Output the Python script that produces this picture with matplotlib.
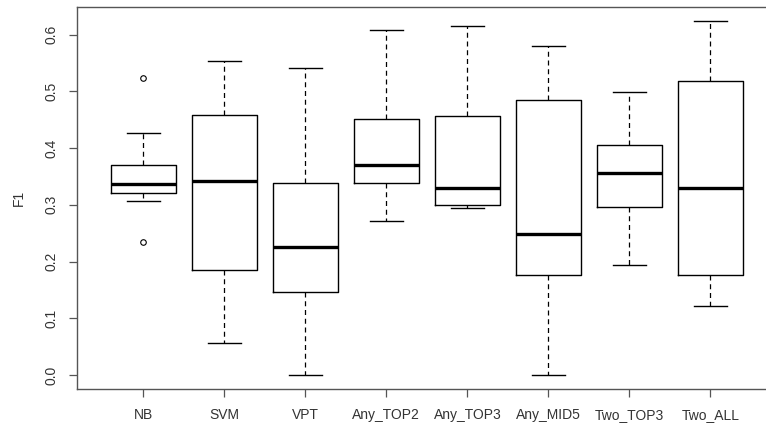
import matplotlib
matplotlib.use("Agg")
import matplotlib.pyplot as plt

# values (F1 per method)
labels = ["NB", "SVM", "VPT", "Any_TOP2", "Any_TOP3", "Any_MID5", "Two_TOP3", "Two_ALL"]
whislo = [0.307, 0.056, 0.000, 0.271, 0.294, 0.000, 0.194, 0.121]
q1 = [0.320, 0.185, 0.147, 0.339, 0.299, 0.177, 0.297, 0.177]
med = [0.336, 0.342, 0.226, 0.371, 0.329, 0.249, 0.356, 0.329]
q3 = [0.371, 0.458, 0.338, 0.452, 0.456, 0.485, 0.405, 0.519]
whishi = [0.426, 0.553, 0.542, 0.609, 0.616, 0.581, 0.499, 0.624]
fliers = [[0.523, 0.235], [], [], [], [], [], [], []]

plt.rcParams["font.family"] = ["Liberation Sans", "DejaVu Sans"]

W, H = 766, 428
fig = plt.figure(figsize=(W / 100, H / 100), dpi=100)
# axes frame in pixels: left 77, top 7.3, bottom 389, right ~777 (cut off by the image edge)
ax = fig.add_axes([77 / W, (H - 389) / H, (776.8 - 77) / W, (389 - 7.3) / H])

stats = []
for i in range(len(labels)):
    stats.append({"label": labels[i], "whislo": whislo[i], "q1": q1[i], "med": med[i],
                  "q3": q3[i], "whishi": whishi[i], "fliers": fliers[i]})

ax.bxp(stats, positions=range(1, len(labels) + 1), widths=0.8, showfliers=True,
       boxprops=dict(color="black", linewidth=1.0),
       medianprops=dict(color="black", linewidth=2.4, solid_capstyle="butt"),
       whiskerprops=dict(color="black", linewidth=0.9, linestyle=(0, (4, 3))),
       capprops=dict(color="black", linewidth=1.0),
       capwidths=0.4,
       flierprops=dict(marker="o", markersize=4, markerfacecolor="none",
                       markeredgecolor="black", markeredgewidth=0.8))

ax.set_xlim(0.18, 8.82)
ax.set_ylim(-0.0249, 0.6484)
ax.set_yticks([0.0, 0.1, 0.2, 0.3, 0.4, 0.5, 0.6])
ax.set_yticklabels(["0.0", "0.1", "0.2", "0.3", "0.4", "0.5", "0.6"], rotation=90, va="center")
ax.set_xticks(range(1, len(labels) + 1))
ax.set_xticklabels(labels)

for side in ["left", "bottom", "top"]:
    ax.spines[side].set_color("#555555")
    ax.spines[side].set_linewidth(1.0)
ax.spines["right"].set_visible(False)

ax.tick_params(axis="both", direction="out", length=6, width=0.9, color="#555555",
               labelsize=10, labelcolor="#333333")
ax.tick_params(axis="y", pad=7)
ax.tick_params(axis="x", pad=8)

ax.set_ylabel("F1", fontsize=10, color="#333333", labelpad=14)

fig.savefig("out.png", dpi=100)
